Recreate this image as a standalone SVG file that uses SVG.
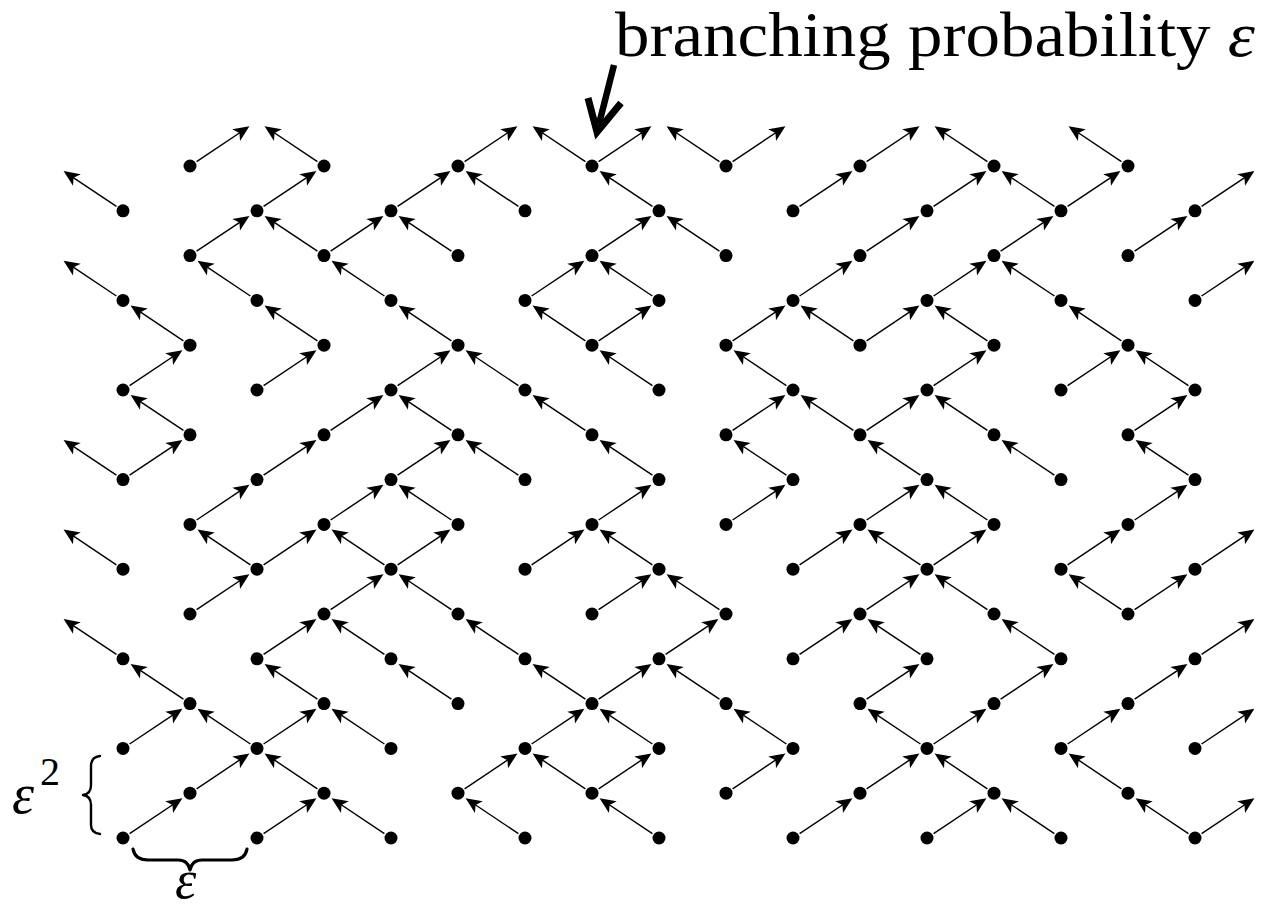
<svg xmlns="http://www.w3.org/2000/svg" width="1261" height="914" viewBox="0 0 1261 914">
<defs>
<style>
.edges path{fill:none;stroke:#000;stroke-width:1.4;marker-end:url(#ah)}
.nodes circle{fill:#000}
.lbl{font-family:"Liberation Serif","DejaVu Serif",serif;fill:#000}
.brace{fill:none;stroke:#000;stroke-linecap:round;stroke-linejoin:round}
</style>
<marker id="ah" viewBox="-20 -10 22 20" refX="-4" refY="0" markerWidth="22" markerHeight="20" markerUnits="userSpaceOnUse" orient="auto" overflow="visible">
<path d="M0,0 L-16,-7 L-12,0 L-16,7 Z" fill="#000"/>
</marker>
</defs>
<rect width="1261" height="914" fill="#fff"/>
<g id="connectors" class="edges">
<path d="M190,166m6.6-4.4l49.5-33.1"/>
<path d="M324,166m-6.6-4.4l-49.5-33.1"/>
<path d="M458,166m6.6-4.4l49.5-33.1"/>
<path d="M592,166m-6.6-4.4l-49.5-33.1"/>
<path d="M592,166m6.6-4.4l49.5-33.1"/>
<path d="M726,166m-6.6-4.4l-49.5-33.1"/>
<path d="M726,166m6.6-4.4l49.5-33.1"/>
<path d="M860,166m6.6-4.4l49.5-33.1"/>
<path d="M994,166m-6.6-4.4l-49.5-33.1"/>
<path d="M1128,166m-6.6-4.4l-49.5-33.1"/>
<path d="M123,210.8m-6.6-4.4l-49.5-33.1"/>
<path d="M257,210.8m6.6-4.4l49.5-33.1"/>
<path d="M391,210.8m6.6-4.4l49.5-33.1"/>
<path d="M525,210.8m-6.6-4.4l-49.5-33.1"/>
<path d="M659,210.8m-6.6-4.4l-49.5-33.1"/>
<path d="M793,210.8m6.6-4.4l49.5-33.1"/>
<path d="M927,210.8m6.6-4.4l49.5-33.1"/>
<path d="M1061,210.8m-6.6-4.4l-49.5-33.1"/>
<path d="M1061,210.8m6.6-4.4l49.5-33.1"/>
<path d="M1195,210.8m6.6-4.4l49.5-33.1"/>
<path d="M190,255.6m6.6-4.4l49.5-33.1"/>
<path d="M324,255.6m-6.6-4.4l-49.5-33.1"/>
<path d="M324,255.6m6.6-4.4l49.5-33.1"/>
<path d="M458,255.6m-6.6-4.4l-49.5-33.1"/>
<path d="M592,255.6m6.6-4.4l49.5-33.1"/>
<path d="M726,255.6m-6.6-4.4l-49.5-33.1"/>
<path d="M860,255.6m6.6-4.4l49.5-33.1"/>
<path d="M994,255.6m6.6-4.4l49.5-33.1"/>
<path d="M1128,255.6m6.6-4.4l49.5-33.1"/>
<path d="M123,300.4m-6.6-4.4l-49.5-33.1"/>
<path d="M257,300.4m-6.6-4.4l-49.5-33.1"/>
<path d="M391,300.4m-6.6-4.4l-49.5-33.1"/>
<path d="M525,300.4m6.6-4.4l49.5-33.1"/>
<path d="M659,300.4m-6.6-4.4l-49.5-33.1"/>
<path d="M793,300.4m6.6-4.4l49.5-33.1"/>
<path d="M927,300.4m6.6-4.4l49.5-33.1"/>
<path d="M1061,300.4m-6.6-4.4l-49.5-33.1"/>
<path d="M1195,300.4m6.6-4.4l49.5-33.1"/>
<path d="M190,345.2m-6.6-4.4l-49.5-33.1"/>
<path d="M324,345.2m-6.6-4.4l-49.5-33.1"/>
<path d="M458,345.2m-6.6-4.4l-49.5-33.1"/>
<path d="M592,345.2m-6.6-4.4l-49.5-33.1"/>
<path d="M592,345.2m6.6-4.4l49.5-33.1"/>
<path d="M726,345.2m6.6-4.4l49.5-33.1"/>
<path d="M860,345.2m-6.6-4.4l-49.5-33.1"/>
<path d="M860,345.2m6.6-4.4l49.5-33.1"/>
<path d="M994,345.2m-6.6-4.4l-49.5-33.1"/>
<path d="M1128,345.2m-6.6-4.4l-49.5-33.1"/>
<path d="M123,390m6.6-4.4l49.5-33.1"/>
<path d="M257,390m6.6-4.4l49.5-33.1"/>
<path d="M391,390m6.6-4.4l49.5-33.1"/>
<path d="M525,390m-6.6-4.4l-49.5-33.1"/>
<path d="M659,390m-6.6-4.4l-49.5-33.1"/>
<path d="M793,390m-6.6-4.4l-49.5-33.1"/>
<path d="M927,390m6.6-4.4l49.5-33.1"/>
<path d="M1061,390m6.6-4.4l49.5-33.1"/>
<path d="M1195,390m-6.6-4.4l-49.5-33.1"/>
<path d="M190,434.8m-6.6-4.4l-49.5-33.1"/>
<path d="M324,434.8m6.6-4.4l49.5-33.1"/>
<path d="M458,434.8m-6.6-4.4l-49.5-33.1"/>
<path d="M592,434.8m-6.6-4.4l-49.5-33.1"/>
<path d="M726,434.8m6.6-4.4l49.5-33.1"/>
<path d="M860,434.8m-6.6-4.4l-49.5-33.1"/>
<path d="M860,434.8m6.6-4.4l49.5-33.1"/>
<path d="M994,434.8m-6.6-4.4l-49.5-33.1"/>
<path d="M1128,434.8m6.6-4.4l49.5-33.1"/>
<path d="M123,479.6m-6.6-4.4l-49.5-33.1"/>
<path d="M123,479.6m6.6-4.4l49.5-33.1"/>
<path d="M257,479.6m6.6-4.4l49.5-33.1"/>
<path d="M391,479.6m6.6-4.4l49.5-33.1"/>
<path d="M525,479.6m-6.6-4.4l-49.5-33.1"/>
<path d="M659,479.6m-6.6-4.4l-49.5-33.1"/>
<path d="M793,479.6m-6.6-4.4l-49.5-33.1"/>
<path d="M927,479.6m-6.6-4.4l-49.5-33.1"/>
<path d="M1061,479.6m-6.6-4.4l-49.5-33.1"/>
<path d="M1195,479.6m-6.6-4.4l-49.5-33.1"/>
<path d="M190,524.4m6.6-4.4l49.5-33.1"/>
<path d="M324,524.4m6.6-4.4l49.5-33.1"/>
<path d="M458,524.4m-6.6-4.4l-49.5-33.1"/>
<path d="M592,524.4m6.6-4.4l49.5-33.1"/>
<path d="M726,524.4m6.6-4.4l49.5-33.1"/>
<path d="M860,524.4m6.6-4.4l49.5-33.1"/>
<path d="M994,524.4m-6.6-4.4l-49.5-33.1"/>
<path d="M1128,524.4m6.6-4.4l49.5-33.1"/>
<path d="M123,569.2m-6.6-4.4l-49.5-33.1"/>
<path d="M257,569.2m-6.6-4.4l-49.5-33.1"/>
<path d="M257,569.2m6.6-4.4l49.5-33.1"/>
<path d="M391,569.2m-6.6-4.4l-49.5-33.1"/>
<path d="M391,569.2m6.6-4.4l49.5-33.1"/>
<path d="M525,569.2m6.6-4.4l49.5-33.1"/>
<path d="M659,569.2m-6.6-4.4l-49.5-33.1"/>
<path d="M793,569.2m6.6-4.4l49.5-33.1"/>
<path d="M927,569.2m-6.6-4.4l-49.5-33.1"/>
<path d="M927,569.2m6.6-4.4l49.5-33.1"/>
<path d="M1061,569.2m6.6-4.4l49.5-33.1"/>
<path d="M1195,569.2m6.6-4.4l49.5-33.1"/>
<path d="M190,614m6.6-4.4l49.5-33.1"/>
<path d="M324,614m6.6-4.4l49.5-33.1"/>
<path d="M458,614m-6.6-4.4l-49.5-33.1"/>
<path d="M592,614m6.6-4.4l49.5-33.1"/>
<path d="M726,614m-6.6-4.4l-49.5-33.1"/>
<path d="M860,614m6.6-4.4l49.5-33.1"/>
<path d="M994,614m-6.6-4.4l-49.5-33.1"/>
<path d="M1128,614m-6.6-4.4l-49.5-33.1"/>
<path d="M1128,614m6.6-4.4l49.5-33.1"/>
<path d="M123,658.8m-6.6-4.4l-49.5-33.1"/>
<path d="M257,658.8m6.6-4.4l49.5-33.1"/>
<path d="M391,658.8m-6.6-4.4l-49.5-33.1"/>
<path d="M525,658.8m-6.6-4.4l-49.5-33.1"/>
<path d="M659,658.8m6.6-4.4l49.5-33.1"/>
<path d="M793,658.8m6.6-4.4l49.5-33.1"/>
<path d="M927,658.8m-6.6-4.4l-49.5-33.1"/>
<path d="M1061,658.8m-6.6-4.4l-49.5-33.1"/>
<path d="M1195,658.8m6.6-4.4l49.5-33.1"/>
<path d="M190,703.6m-6.6-4.4l-49.5-33.1"/>
<path d="M324,703.6m-6.6-4.4l-49.5-33.1"/>
<path d="M458,703.6m-6.6-4.4l-49.5-33.1"/>
<path d="M592,703.6m-6.6-4.4l-49.5-33.1"/>
<path d="M592,703.6m6.6-4.4l49.5-33.1"/>
<path d="M726,703.6m-6.6-4.4l-49.5-33.1"/>
<path d="M860,703.6m6.6-4.4l49.5-33.1"/>
<path d="M994,703.6m6.6-4.4l49.5-33.1"/>
<path d="M1128,703.6m6.6-4.4l49.5-33.1"/>
<path d="M123,748.4m6.6-4.4l49.5-33.1"/>
<path d="M257,748.4m-6.6-4.4l-49.5-33.1"/>
<path d="M257,748.4m6.6-4.4l49.5-33.1"/>
<path d="M391,748.4m-6.6-4.4l-49.5-33.1"/>
<path d="M525,748.4m6.6-4.4l49.5-33.1"/>
<path d="M659,748.4m-6.6-4.4l-49.5-33.1"/>
<path d="M793,748.4m-6.6-4.4l-49.5-33.1"/>
<path d="M927,748.4m-6.6-4.4l-49.5-33.1"/>
<path d="M927,748.4m6.6-4.4l49.5-33.1"/>
<path d="M1061,748.4m6.6-4.4l49.5-33.1"/>
<path d="M1195,748.4m6.6-4.4l49.5-33.1"/>
<path d="M190,793.2m6.6-4.4l49.5-33.1"/>
<path d="M324,793.2m-6.6-4.4l-49.5-33.1"/>
<path d="M458,793.2m6.6-4.4l49.5-33.1"/>
<path d="M592,793.2m-6.6-4.4l-49.5-33.1"/>
<path d="M592,793.2m6.6-4.4l49.5-33.1"/>
<path d="M726,793.2m6.6-4.4l49.5-33.1"/>
<path d="M860,793.2m6.6-4.4l49.5-33.1"/>
<path d="M994,793.2m-6.6-4.4l-49.5-33.1"/>
<path d="M1128,793.2m-6.6-4.4l-49.5-33.1"/>
<path d="M123,838m6.6-4.4l49.5-33.1"/>
<path d="M257,838m6.6-4.4l49.5-33.1"/>
<path d="M391,838m-6.6-4.4l-49.5-33.1"/>
<path d="M525,838m-6.6-4.4l-49.5-33.1"/>
<path d="M659,838m-6.6-4.4l-49.5-33.1"/>
<path d="M793,838m6.6-4.4l49.5-33.1"/>
<path d="M927,838m6.6-4.4l49.5-33.1"/>
<path d="M1061,838m-6.6-4.4l-49.5-33.1"/>
<path d="M1195,838m-6.6-4.4l-49.5-33.1"/>
<path d="M1195,838m6.6-4.4l49.5-33.1"/>
</g>
<g class="nodes">
<g id="n0-1"><circle cx="190" cy="166" r="6.5"/></g>
<g id="n0-3"><circle cx="324" cy="166" r="6.5"/></g>
<g id="n0-5"><circle cx="458" cy="166" r="6.5"/></g>
<g id="n0-7"><circle cx="592" cy="166" r="6.5"/></g>
<g id="n0-9"><circle cx="726" cy="166" r="6.5"/></g>
<g id="n0-11"><circle cx="860" cy="166" r="6.5"/></g>
<g id="n0-13"><circle cx="994" cy="166" r="6.5"/></g>
<g id="n0-15"><circle cx="1128" cy="166" r="6.5"/></g>
<g id="n1-0"><circle cx="123" cy="210.8" r="6.5"/></g>
<g id="n1-2"><circle cx="257" cy="210.8" r="6.5"/></g>
<g id="n1-4"><circle cx="391" cy="210.8" r="6.5"/></g>
<g id="n1-6"><circle cx="525" cy="210.8" r="6.5"/></g>
<g id="n1-8"><circle cx="659" cy="210.8" r="6.5"/></g>
<g id="n1-10"><circle cx="793" cy="210.8" r="6.5"/></g>
<g id="n1-12"><circle cx="927" cy="210.8" r="6.5"/></g>
<g id="n1-14"><circle cx="1061" cy="210.8" r="6.5"/></g>
<g id="n1-16"><circle cx="1195" cy="210.8" r="6.5"/></g>
<g id="n2-1"><circle cx="190" cy="255.6" r="6.5"/></g>
<g id="n2-3"><circle cx="324" cy="255.6" r="6.5"/></g>
<g id="n2-5"><circle cx="458" cy="255.6" r="6.5"/></g>
<g id="n2-7"><circle cx="592" cy="255.6" r="6.5"/></g>
<g id="n2-9"><circle cx="726" cy="255.6" r="6.5"/></g>
<g id="n2-11"><circle cx="860" cy="255.6" r="6.5"/></g>
<g id="n2-13"><circle cx="994" cy="255.6" r="6.5"/></g>
<g id="n2-15"><circle cx="1128" cy="255.6" r="6.5"/></g>
<g id="n3-0"><circle cx="123" cy="300.4" r="6.5"/></g>
<g id="n3-2"><circle cx="257" cy="300.4" r="6.5"/></g>
<g id="n3-4"><circle cx="391" cy="300.4" r="6.5"/></g>
<g id="n3-6"><circle cx="525" cy="300.4" r="6.5"/></g>
<g id="n3-8"><circle cx="659" cy="300.4" r="6.5"/></g>
<g id="n3-10"><circle cx="793" cy="300.4" r="6.5"/></g>
<g id="n3-12"><circle cx="927" cy="300.4" r="6.5"/></g>
<g id="n3-14"><circle cx="1061" cy="300.4" r="6.5"/></g>
<g id="n3-16"><circle cx="1195" cy="300.4" r="6.5"/></g>
<g id="n4-1"><circle cx="190" cy="345.2" r="6.5"/></g>
<g id="n4-3"><circle cx="324" cy="345.2" r="6.5"/></g>
<g id="n4-5"><circle cx="458" cy="345.2" r="6.5"/></g>
<g id="n4-7"><circle cx="592" cy="345.2" r="6.5"/></g>
<g id="n4-9"><circle cx="726" cy="345.2" r="6.5"/></g>
<g id="n4-11"><circle cx="860" cy="345.2" r="6.5"/></g>
<g id="n4-13"><circle cx="994" cy="345.2" r="6.5"/></g>
<g id="n4-15"><circle cx="1128" cy="345.2" r="6.5"/></g>
<g id="n5-0"><circle cx="123" cy="390" r="6.5"/></g>
<g id="n5-2"><circle cx="257" cy="390" r="6.5"/></g>
<g id="n5-4"><circle cx="391" cy="390" r="6.5"/></g>
<g id="n5-6"><circle cx="525" cy="390" r="6.5"/></g>
<g id="n5-8"><circle cx="659" cy="390" r="6.5"/></g>
<g id="n5-10"><circle cx="793" cy="390" r="6.5"/></g>
<g id="n5-12"><circle cx="927" cy="390" r="6.5"/></g>
<g id="n5-14"><circle cx="1061" cy="390" r="6.5"/></g>
<g id="n5-16"><circle cx="1195" cy="390" r="6.5"/></g>
<g id="n6-1"><circle cx="190" cy="434.8" r="6.5"/></g>
<g id="n6-3"><circle cx="324" cy="434.8" r="6.5"/></g>
<g id="n6-5"><circle cx="458" cy="434.8" r="6.5"/></g>
<g id="n6-7"><circle cx="592" cy="434.8" r="6.5"/></g>
<g id="n6-9"><circle cx="726" cy="434.8" r="6.5"/></g>
<g id="n6-11"><circle cx="860" cy="434.8" r="6.5"/></g>
<g id="n6-13"><circle cx="994" cy="434.8" r="6.5"/></g>
<g id="n6-15"><circle cx="1128" cy="434.8" r="6.5"/></g>
<g id="n7-0"><circle cx="123" cy="479.6" r="6.5"/></g>
<g id="n7-2"><circle cx="257" cy="479.6" r="6.5"/></g>
<g id="n7-4"><circle cx="391" cy="479.6" r="6.5"/></g>
<g id="n7-6"><circle cx="525" cy="479.6" r="6.5"/></g>
<g id="n7-8"><circle cx="659" cy="479.6" r="6.5"/></g>
<g id="n7-10"><circle cx="793" cy="479.6" r="6.5"/></g>
<g id="n7-12"><circle cx="927" cy="479.6" r="6.5"/></g>
<g id="n7-14"><circle cx="1061" cy="479.6" r="6.5"/></g>
<g id="n7-16"><circle cx="1195" cy="479.6" r="6.5"/></g>
<g id="n8-1"><circle cx="190" cy="524.4" r="6.5"/></g>
<g id="n8-3"><circle cx="324" cy="524.4" r="6.5"/></g>
<g id="n8-5"><circle cx="458" cy="524.4" r="6.5"/></g>
<g id="n8-7"><circle cx="592" cy="524.4" r="6.5"/></g>
<g id="n8-9"><circle cx="726" cy="524.4" r="6.5"/></g>
<g id="n8-11"><circle cx="860" cy="524.4" r="6.5"/></g>
<g id="n8-13"><circle cx="994" cy="524.4" r="6.5"/></g>
<g id="n8-15"><circle cx="1128" cy="524.4" r="6.5"/></g>
<g id="n9-0"><circle cx="123" cy="569.2" r="6.5"/></g>
<g id="n9-2"><circle cx="257" cy="569.2" r="6.5"/></g>
<g id="n9-4"><circle cx="391" cy="569.2" r="6.5"/></g>
<g id="n9-6"><circle cx="525" cy="569.2" r="6.5"/></g>
<g id="n9-8"><circle cx="659" cy="569.2" r="6.5"/></g>
<g id="n9-10"><circle cx="793" cy="569.2" r="6.5"/></g>
<g id="n9-12"><circle cx="927" cy="569.2" r="6.5"/></g>
<g id="n9-14"><circle cx="1061" cy="569.2" r="6.5"/></g>
<g id="n9-16"><circle cx="1195" cy="569.2" r="6.5"/></g>
<g id="n10-1"><circle cx="190" cy="614" r="6.5"/></g>
<g id="n10-3"><circle cx="324" cy="614" r="6.5"/></g>
<g id="n10-5"><circle cx="458" cy="614" r="6.5"/></g>
<g id="n10-7"><circle cx="592" cy="614" r="6.5"/></g>
<g id="n10-9"><circle cx="726" cy="614" r="6.5"/></g>
<g id="n10-11"><circle cx="860" cy="614" r="6.5"/></g>
<g id="n10-13"><circle cx="994" cy="614" r="6.5"/></g>
<g id="n10-15"><circle cx="1128" cy="614" r="6.5"/></g>
<g id="n11-0"><circle cx="123" cy="658.8" r="6.5"/></g>
<g id="n11-2"><circle cx="257" cy="658.8" r="6.5"/></g>
<g id="n11-4"><circle cx="391" cy="658.8" r="6.5"/></g>
<g id="n11-6"><circle cx="525" cy="658.8" r="6.5"/></g>
<g id="n11-8"><circle cx="659" cy="658.8" r="6.5"/></g>
<g id="n11-10"><circle cx="793" cy="658.8" r="6.5"/></g>
<g id="n11-12"><circle cx="927" cy="658.8" r="6.5"/></g>
<g id="n11-14"><circle cx="1061" cy="658.8" r="6.5"/></g>
<g id="n11-16"><circle cx="1195" cy="658.8" r="6.5"/></g>
<g id="n12-1"><circle cx="190" cy="703.6" r="6.5"/></g>
<g id="n12-3"><circle cx="324" cy="703.6" r="6.5"/></g>
<g id="n12-5"><circle cx="458" cy="703.6" r="6.5"/></g>
<g id="n12-7"><circle cx="592" cy="703.6" r="6.5"/></g>
<g id="n12-9"><circle cx="726" cy="703.6" r="6.5"/></g>
<g id="n12-11"><circle cx="860" cy="703.6" r="6.5"/></g>
<g id="n12-13"><circle cx="994" cy="703.6" r="6.5"/></g>
<g id="n12-15"><circle cx="1128" cy="703.6" r="6.5"/></g>
<g id="n13-0"><circle cx="123" cy="748.4" r="6.5"/></g>
<g id="n13-2"><circle cx="257" cy="748.4" r="6.5"/></g>
<g id="n13-4"><circle cx="391" cy="748.4" r="6.5"/></g>
<g id="n13-6"><circle cx="525" cy="748.4" r="6.5"/></g>
<g id="n13-8"><circle cx="659" cy="748.4" r="6.5"/></g>
<g id="n13-10"><circle cx="793" cy="748.4" r="6.5"/></g>
<g id="n13-12"><circle cx="927" cy="748.4" r="6.5"/></g>
<g id="n13-14"><circle cx="1061" cy="748.4" r="6.5"/></g>
<g id="n13-16"><circle cx="1195" cy="748.4" r="6.5"/></g>
<g id="n14-1"><circle cx="190" cy="793.2" r="6.5"/></g>
<g id="n14-3"><circle cx="324" cy="793.2" r="6.5"/></g>
<g id="n14-5"><circle cx="458" cy="793.2" r="6.5"/></g>
<g id="n14-7"><circle cx="592" cy="793.2" r="6.5"/></g>
<g id="n14-9"><circle cx="726" cy="793.2" r="6.5"/></g>
<g id="n14-11"><circle cx="860" cy="793.2" r="6.5"/></g>
<g id="n14-13"><circle cx="994" cy="793.2" r="6.5"/></g>
<g id="n14-15"><circle cx="1128" cy="793.2" r="6.5"/></g>
<g id="n15-0"><circle cx="123" cy="838" r="6.5"/></g>
<g id="n15-2"><circle cx="257" cy="838" r="6.5"/></g>
<g id="n15-4"><circle cx="391" cy="838" r="6.5"/></g>
<g id="n15-6"><circle cx="525" cy="838" r="6.5"/></g>
<g id="n15-8"><circle cx="659" cy="838" r="6.5"/></g>
<g id="n15-10"><circle cx="793" cy="838" r="6.5"/></g>
<g id="n15-12"><circle cx="927" cy="838" r="6.5"/></g>
<g id="n15-14"><circle cx="1061" cy="838" r="6.5"/></g>
<g id="n15-16"><circle cx="1195" cy="838" r="6.5"/></g>
</g>
<g id="label-branching">
<text class="lbl" x="615" y="56" font-size="64" textLength="640" lengthAdjust="spacingAndGlyphs">branching probability <tspan font-style="italic">ε</tspan></text>
<path d="M614,65 L599,124" stroke="#000" stroke-width="6.5" fill="none"/>
<path d="M588,98 L597,132 L621,103" stroke="#000" stroke-width="7" fill="none" stroke-linejoin="miter" stroke-miterlimit="6"/>
</g>
<g id="label-eps2">
<text class="lbl" x="12" y="813" font-size="56" font-style="italic">ε</text>
<text class="lbl" x="40" y="785" font-size="40">2</text>
<path class="brace" stroke-width="2.4" d="M100,756 Q91,757 91,766 L91,785 Q91,794 83,795 Q91,796 91,805 L91,825 Q91,833 100,834"/>
</g>
<g id="label-eps">
<path class="brace" stroke-width="3.2" d="M133,849 Q135,860 148,860 L178,860 Q188,860 190,870 Q192,860 202,860 L232,860 Q245,860 247,849"/>
<text class="lbl" x="175" y="898" font-size="54" font-style="italic">ε</text>
</g>
</svg>
